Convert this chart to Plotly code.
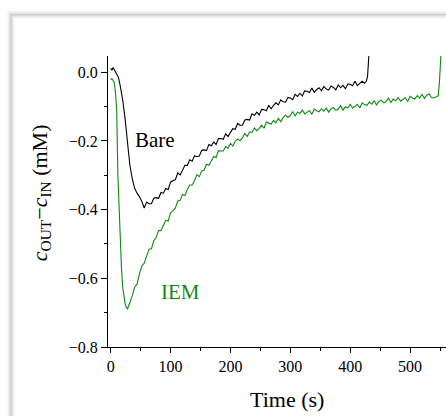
import plotly.graph_objects as go

# ---- data (time in s, concentration difference in mM) ----
bare_t = [0, 2, 4, 6, 8, 10, 13, 16, 20, 24, 28, 32, 36, 40, 44, 48,
          52, 56, 60, 64, 68, 72, 76, 80, 84, 88, 92, 96, 100, 104, 108, 112, 116, 120,
          124, 128, 132, 136, 140, 144, 148, 152, 156, 160, 164, 168, 172, 176, 180, 184,
          188, 192, 196, 200, 204, 208, 212, 216, 220, 224, 228, 232, 236, 240, 244, 248,
          252, 256, 260, 264, 268, 272, 276, 280, 284, 288, 292, 296, 300, 304, 308, 312,
          316, 320, 324, 328, 332, 336, 340, 344, 348, 352, 356, 360, 364, 368, 372, 376,
          380, 384, 388, 392, 396, 400, 404, 408, 412, 416, 420, 424, 427, 429, 431, 433]
bare_c = [0.012, 0.006, 0.014, 0.008, 0.004, -0.002, -0.015, -0.040, -0.080, -0.135,
          -0.200, -0.270, -0.310, -0.338, -0.352, -0.362,
          -0.376, -0.395, -0.378, -0.383, -0.383, -0.367, -0.365, -0.367, -0.350, -0.352,
          -0.338, -0.341, -0.320, -0.315, -0.313, -0.293, -0.299, -0.285, -0.271, -0.271,
          -0.255, -0.259, -0.243, -0.246, -0.244, -0.227, -0.226, -0.228, -0.210, -0.214,
          -0.203, -0.210, -0.193, -0.193, -0.195, -0.179, -0.187, -0.175, -0.164, -0.166,
          -0.149, -0.154, -0.154, -0.139, -0.137, -0.139, -0.121, -0.125, -0.116, -0.124,
          -0.108, -0.109, -0.112, -0.096, -0.106, -0.096, -0.089, -0.095, -0.080, -0.086,
          -0.087, -0.073, -0.075, -0.080, -0.064, -0.070, -0.061, -0.069, -0.054, -0.055,
          -0.059, -0.046, -0.058, -0.050, -0.045, -0.054, -0.041, -0.049, -0.052, -0.040,
          -0.044, -0.051, -0.037, -0.045, -0.038, -0.048, -0.034, -0.035, -0.039, -0.026,
          -0.039, -0.032, -0.026, -0.032, -0.026, -0.012, 0.030, 0.100]

iem_t = [0, 2, 4, 6, 8, 10, 12, 14, 16, 18, 20, 22, 24, 26, 28, 30, 32, 34,
         36, 40, 44, 48, 52, 56, 60, 64, 68, 72, 76, 80, 84, 88, 92, 96, 100, 104, 108,
         112, 116, 120, 124, 128, 132, 136, 140, 144, 148, 152, 156, 160, 164, 168, 172,
         176, 180, 184, 188, 192, 196, 200, 204, 208, 212, 216, 220, 224, 228, 232, 236,
         240, 244, 248, 252, 256, 260, 264, 268, 272, 276, 280, 284, 288, 292, 296, 300,
         304, 308, 312, 316, 320, 324, 328, 332, 336, 340, 344, 348, 352, 356, 360, 364,
         368, 372, 376, 380, 384, 388, 392, 396, 400, 404, 408, 412, 416, 420, 424, 428,
         432, 436, 440, 444, 448, 452, 456, 460, 464, 468, 472, 476, 480, 484, 488, 492,
         496, 500, 504, 508, 512, 516, 520, 524, 528, 532, 536, 540, 544, 547, 549, 551, 553]
iem_c = [-0.022, -0.018, -0.024, -0.030, -0.060, -0.110, -0.300, -0.410, -0.500, -0.570,
         -0.625, -0.655, -0.672, -0.684, -0.690, -0.678, -0.672, -0.660,
         -0.651, -0.626, -0.617, -0.587, -0.564, -0.556, -0.538, -0.515, -0.514, -0.490,
         -0.481, -0.461, -0.461, -0.446, -0.431, -0.433, -0.409, -0.403, -0.395, -0.375,
         -0.373, -0.356, -0.359, -0.341, -0.328, -0.328, -0.316, -0.298, -0.304, -0.287,
         -0.285, -0.268, -0.271, -0.258, -0.245, -0.248, -0.228, -0.229, -0.229, -0.216,
         -0.221, -0.207, -0.215, -0.201, -0.194, -0.199, -0.191, -0.178, -0.187, -0.174,
         -0.175, -0.162, -0.170, -0.163, -0.154, -0.163, -0.145, -0.148, -0.151, -0.140,
         -0.147, -0.134, -0.144, -0.132, -0.125, -0.131, -0.126, -0.114, -0.127, -0.116,
         -0.120, -0.110, -0.121, -0.116, -0.111, -0.122, -0.107, -0.112, -0.115, -0.106,
         -0.113, -0.104, -0.116, -0.106, -0.103, -0.111, -0.107, -0.097, -0.110, -0.100,
         -0.104, -0.093, -0.104, -0.099, -0.093, -0.104, -0.089, -0.094, -0.096, -0.086,
         -0.093, -0.083, -0.095, -0.085, -0.081, -0.089, -0.085, -0.075, -0.088, -0.078,
         -0.083, -0.073, -0.084, -0.079, -0.074, -0.085, -0.070, -0.075, -0.078, -0.068,
         -0.075, -0.064, -0.076, -0.066, -0.063, -0.074, -0.074, -0.071, -0.068, -0.030,
         0.030, 0.100]

x_ticks = [0, 100, 200, 300, 400, 500]
y_ticks = [0.0, -0.2, -0.4, -0.6, -0.8]

GREEN = "#108a10"
FONT = "Liberation Serif"

fig = go.Figure()
fig.add_trace(go.Scatter(x=bare_t, y=bare_c, mode="lines", name="Bare",
                         line=dict(color="black", width=1.1)))
fig.add_trace(go.Scatter(x=iem_t, y=iem_c, mode="lines", name="IEM",
                         line=dict(color=GREEN, width=1.1)))

fig.update_layout(
    width=446, height=416,
    margin=dict(l=108, r=0, t=56, b=69),
    paper_bgcolor="white", plot_bgcolor="white",
    showlegend=False,
    font=dict(family=FONT, size=16, color="black"),
    xaxis=dict(range=[-4.5, 560], tickvals=x_ticks, showgrid=False, zeroline=False,
               showline=True, linecolor="black", linewidth=1,
               ticks="outside", ticklen=5, tickcolor="black",
               minor=dict(dtick=50, ticks="outside", ticklen=3, tickcolor="black"),
               tickfont=dict(family=FONT, size=16)),
    yaxis=dict(range=[-0.8, 0.0475], tickvals=y_ticks, tickformat=".1f", showgrid=False,
               zeroline=False, showline=True, linecolor="black", linewidth=1,
               ticks="outside", ticklen=6, tickcolor="black",
               minor=dict(dtick=0.1, ticks="outside", ticklen=3, tickcolor="black"),
               tickfont=dict(family=FONT, size=16)),
)

# card frame with soft shadow
for w, col in [(7, "#f0f0f0"), (4, "#e2e2e2"), (1.5, "#cfcfcf")]:
    fig.add_shape(type="rect", xref="paper", yref="paper",
                  x0=-0.287, x1=1.3, y0=-0.5, y1=1.142,
                  line=dict(color=col, width=w), fillcolor="rgba(0,0,0,0)", layer="below")

fig.add_annotation(text="<i>c</i><sub>OUT</sub>\u2212<i>c</i><sub>IN</sub> (mM)",
                   xref="paper", yref="paper", x=-0.20, y=0.53, textangle=-90,
                   showarrow=False, xanchor="center", yanchor="middle",
                   font=dict(family=FONT, size=22, color="black"))
fig.add_annotation(text="Time (s)", xref="paper", yref="paper", x=0.53, y=-0.182,
                   showarrow=False, xanchor="center", yanchor="middle",
                   font=dict(family=FONT, size=22, color="black"))
fig.add_annotation(text="Bare", x=74, y=-0.197, showarrow=False,
                   font=dict(family=FONT, size=21, color="black"))
fig.add_annotation(text="IEM", x=116, y=-0.639, showarrow=False,
                   font=dict(family=FONT, size=21, color=GREEN))

fig.write_html("out.html", config=dict(displayModeBar=False),
               post_script="document.body.style.margin='0';"
                           "document.documentElement.style.overflow='hidden';"
                           "document.body.style.overflow='hidden';")
